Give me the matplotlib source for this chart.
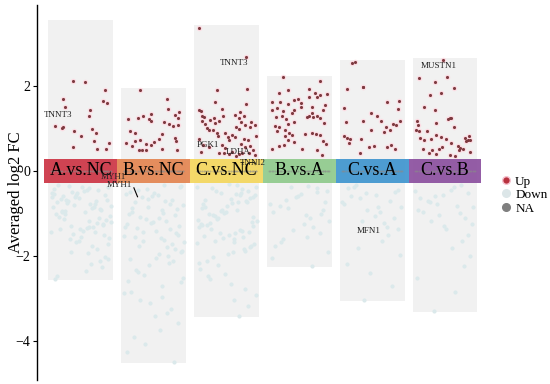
import numpy as np
import matplotlib
matplotlib.use('Agg')
import matplotlib.pyplot as plt
from matplotlib.lines import Line2D

# フォント（Times風）
plt.rcParams['font.family'] = ['Liberation Serif', 'DejaVu Serif']

# クラスター名とタイルの色
clusters = ['A.vs.NC', 'B.vs.NC', 'C.vs.NC', 'B.vs.A', 'C.vs.A', 'C.vs.B']
tile_colors = ['#cc3444', '#e38550', '#f4d65c', '#8fca8c', '#3f95cf', '#8b4f9f']

# 背景バーの上下（log2FCの範囲）
bar_top = [3.55, 1.95, 3.44, 2.24, 2.61, 2.66]
bar_bottom = [-2.56, -4.52, -3.44, -2.26, -3.06, -3.32]

# Up遺伝子 (xのずれ, log2FC)
up_A_x = [-0.10, 0.06, 0.33, -0.24, 0.31, 0.36, -0.21, 0.13, 0.11, -0.35, -0.26, -0.24,
          -0.09, 0.15, 0.21, 0.00, 0.18, 0.39, -0.10, 0.23, 0.35]
up_A_y = [2.12, 2.09, 1.91, 1.70, 1.64, 1.59, 1.49, 1.44, 1.28, 1.06, 1.01, 1.03,
          0.93, 0.99, 0.88, 0.83, 0.71, 0.65, 0.56, 0.51, 0.51]
up_B_x = [-0.18, 0.19, 0.20, 0.35, 0.29, 0.34, -0.03, -0.35, -0.22, -0.14, -0.06, -0.03,
          0.14, 0.21, 0.27, 0.33, -0.33, -0.25, 0.11, -0.19, 0.07, 0.00, 0.30, 0.31,
          -0.38, -0.25, -0.11, -0.04, -0.29, 0.11, -0.20, -0.16, -0.11, 0.32]
up_B_y = [1.91, 1.70, 1.46, 1.39, 1.32, 1.24, 1.33, 1.23, 1.25, 1.28, 1.22, 1.18,
          1.14, 1.11, 1.06, 1.07, 0.93, 0.89, 0.86, 0.72, 0.75, 0.67, 0.77, 0.69,
          0.65, 0.69, 0.64, 0.60, 0.59, 0.52, 0.49, 0.49, 0.49, 0.48]
up_C_x = [-0.37, 0.27, -0.13, 0.28, -0.16, 0.27, -0.38, -0.35, -0.06, 0.19, -0.34, -0.31,
          -0.33, -0.29, -0.27, -0.22, -0.17, -0.15, -0.10, -0.05, 0.12, 0.17, 0.24, 0.20,
          0.26, 0.13, 0.17, 0.34, 0.39, 0.33, -0.24, -0.19, -0.13, -0.11, -0.02, 0.02,
          0.04, 0.08, 0.12, 0.24, 0.30, 0.40, -0.38, -0.32, -0.24, -0.06, -0.02, 0.20,
          0.26, 0.32, 0.36, -0.35, -0.10, -0.03, 0.03, 0.08, 0.13, 0.17, 0.21, 0.31, 0.39]
up_C_y = [3.36, 2.68, 1.89, 1.93, 1.62, 1.57, 1.44, 1.40, 1.45, 1.38, 1.28, 1.26,
          1.16, 1.11, 1.00, 1.20, 1.24, 1.12, 1.18, 1.28, 1.31, 1.24, 1.28, 1.14,
          1.08, 1.03, 0.98, 1.15, 1.08, 1.04, 0.95, 0.96, 0.90, 0.82, 0.90, 0.79,
          0.73, 0.85, 0.79, 0.75, 0.73, 0.82, 0.75, 0.61, 0.57, 0.60, 0.53, 0.64,
          0.57, 0.59, 0.48, 0.45, 0.42, 0.42, 0.40, 0.45, 0.34, 0.40, 0.42, 0.43, 0.37]
up_BA_x = [-0.22, 0.28, -0.28, -0.16, 0.14, 0.22, 0.29, -0.38, -0.26, -0.16, -0.07, -0.02,
           0.02, 0.14, 0.25, 0.38, -0.37, -0.30, -0.22, -0.07, 0.02, 0.18, 0.17, 0.32,
           0.36, -0.32, -0.23, -0.18, -0.10, 0.10, 0.14, 0.19, 0.25, 0.28, -0.33, -0.28,
           -0.16, -0.07, 0.34, -0.30, -0.19, -0.14, -0.10, 0.08, 0.17, 0.23, 0.28, -0.20,
           -0.16, -0.28, -0.21, -0.07, 0.04, 0.33, 0.37, 0.25, 0.31, -0.38]
up_BA_y = [2.20, 2.12, 1.84, 1.89, 1.92, 1.84, 1.79, 1.63, 1.63, 1.58, 1.67, 1.70,
           1.59, 1.73, 1.73, 1.81, 1.44, 1.48, 1.40, 1.44, 1.51, 1.51, 1.37, 1.44,
           1.55, 1.26, 1.28, 1.23, 1.36, 1.26, 1.29, 1.26, 1.29, 1.24, 1.06, 1.03,
           1.11, 1.14, 1.12, 0.93, 0.95, 0.90, 0.85, 0.86, 0.90, 0.87, 0.85, 0.81,
           0.73, 0.59, 0.61, 0.67, 0.51, 0.71, 0.64, 0.49, 0.38, 0.51]
up_CA_x = [-0.28, -0.23, -0.34, -0.13, -0.12, 0.21, 0.37, -0.38, -0.02, 0.07, 0.35, -0.36,
           -0.13, 0.12, 0.19, 0.29, 0.33, 0.38, 0.25, -0.01, 0.17, -0.38, -0.35, -0.30,
           -0.32, -0.15, -0.04, 0.02, 0.21, 0.26, 0.32, -0.16]
up_CA_y = [2.53, 2.57, 1.92, 1.96, 1.98, 1.63, 1.65, 1.48, 1.37, 1.28, 1.45, 1.14,
           1.16, 1.16, 1.04, 1.11, 1.08, 1.18, 0.96, 0.96, 0.92, 0.82, 0.77, 0.75,
           0.65, 0.75, 0.57, 0.59, 0.57, 0.61, 0.51, 0.43]
up_CB_x = [-0.03, -0.36, -0.13, 0.03, 0.13, -0.21, -0.06, -0.29, -0.13, 0.04, 0.07, 0.08,
           -0.12, 0.13, -0.39, -0.37, -0.40, -0.36, -0.24, -0.12, -0.06, -0.34, -0.29, -0.19,
           0.01, 0.08, -0.04, -0.08, 0.18, 0.19, 0.20, 0.28, 0.33, 0.35, 0.29, 0.31,
           0.25, 0.35, -0.30, -0.22, -0.18, -0.12, 0.07, 0.14]
up_CB_y = [2.61, 2.18, 2.09, 2.20, 1.95, 1.79, 1.84, 1.49, 1.44, 1.23, 1.25, 1.24,
           1.12, 1.03, 1.16, 1.08, 0.96, 0.93, 0.93, 0.85, 0.79, 0.77, 0.73, 0.75,
           0.75, 0.65, 0.57, 0.51, 0.59, 0.49, 0.53, 0.77, 0.81, 0.73, 0.69, 0.73,
           0.51, 0.45, 0.51, 0.42, 0.48, 0.40, 0.38, 0.34]

# Down遺伝子のxのずれ（共通のジッター）
jitter = [-0.31, 0.12, 0.38, -0.05, 0.24, -0.40, 0.02, 0.33, -0.18, 0.09,
          -0.27, 0.41, -0.12, 0.19, -0.36, 0.28, -0.02, 0.15, -0.22, 0.36,
          0.06, -0.33, 0.25, -0.09, 0.40, -0.16, 0.11, -0.38, 0.30, -0.25,
          0.17, -0.07, 0.35, -0.29, 0.04, 0.22, -0.41, 0.13, -0.14, 0.32,
          -0.20, 0.08, 0.39, -0.34, 0.20, -0.03, 0.27, -0.11, 0.37, -0.23,
          0.01, -0.37, 0.16, 0.31, -0.08, 0.23, -0.30, 0.10, -0.19, 0.34,
          -0.01, 0.26, -0.39, 0.14, -0.15, 0.29, -0.26, 0.07, 0.42, -0.32,
          0.18, -0.06, 0.37, -0.24, 0.03, -0.13, 0.21, -0.35, 0.11, -0.21]

down_A = [-0.34, -0.41, -0.37, -0.52, -0.46, -0.61, -0.39, -0.58, -0.71, -0.44,
          -0.66, -0.83, -0.49, -0.77, -0.55, -0.92, -0.63, -0.88, -1.02, -0.69,
          -0.97, -0.74, -1.11, -0.81, -1.06, -0.36, -1.18, -0.86, -1.24, -0.95,
          -1.31, -0.57, -1.15, -1.38, -0.48, -1.22, -1.45, -0.79, -1.29, -1.52,
          -0.68, -1.35, -1.58, -1.01, -1.43, -1.64, -0.90, -1.49, -1.71, -1.13,
          -1.56, -0.43, -1.78, -1.27, -0.62, -1.85, -1.09, -1.93, -0.75, -2.02,
          -1.36, -2.11, -0.53, -2.19, -1.61, -2.27, -0.98, -2.36, -1.20, -2.48,
          -0.85, -1.68, -2.08, -0.59, -1.41, -1.90, -0.72, -2.55, -1.33, -0.94]
down_B = [-0.33, -0.45, -0.38, -0.57, -0.49, -0.68, -0.42, -0.81, -0.61, -0.93,
          -0.54, -1.05, -0.74, -1.17, -0.66, -1.29, -0.87, -1.41, -0.78, -1.53,
          -0.99, -1.65, -0.89, -1.77, -1.11, -1.89, -1.02, -2.01, -1.23, -2.13,
          -1.14, -0.36, -1.35, -0.51, -1.26, -0.70, -1.47, -0.84, -1.38, -0.97,
          -1.59, -1.08, -1.50, -1.20, -1.71, -1.32, -1.62, -1.44, -1.83, -1.56,
          -1.95, -1.68, -2.07, -1.80, -2.21, -1.92, -2.33, -2.04, -2.46, -2.17,
          -2.58, -2.70, -2.39, -2.84, -2.97, -2.62, -3.11, -3.26, -2.88, -3.42,
          -3.58, -3.05, -3.74, -3.91, -2.52, -4.08, -3.35, -4.25, -4.50, -0.60]
down_C = [-0.31, -0.43, -0.37, -0.55, -0.48, -0.64, -0.40, -0.76, -0.58, -0.88,
          -0.51, -0.99, -0.70, -1.10, -0.62, -1.22, -0.82, -1.33, -0.73, -1.45,
          -0.94, -1.56, -0.85, -1.67, -1.05, -1.78, -0.96, -1.89, -1.16, -0.34,
          -1.07, -0.47, -1.27, -0.66, -1.19, -0.79, -1.39, -0.91, -1.30, -1.02,
          -1.50, -1.13, -1.42, -1.25, -1.61, -1.36, -1.53, -1.47, -1.72, -1.58,
          -1.83, -1.69, -1.95, -1.80, -2.03, -1.91, -2.12, -0.39, -2.22, -0.57,
          -2.31, -0.74, -2.42, -0.92, -2.54, -1.09, -2.66, -1.28, -2.79, -1.46,
          -2.92, -1.64, -3.05, -2.17, -3.19, -2.48, -3.42, -0.53, -1.21, -0.68]
down_BA = [-0.35, -0.48, -0.62, -0.41, -0.77, -0.55, -0.91, -0.69, -1.05, -0.83,
           -1.19, -0.38, -1.33, -0.97, -1.47, -0.59, -1.12, -1.61, -0.74, -1.26,
           -1.76, -0.50, -1.40, -1.90, -0.88, -1.55, -2.05, -1.02, -1.68, -2.24]
down_CA = [-0.33, -0.46, -0.58, -0.40, -0.71, -0.52, -0.84, -0.65, -0.97, -0.78,
           -1.10, -0.37, -1.23, -0.91, -1.36, -0.60, -1.06, -1.50, -0.73, -1.64,
           -1.19, -0.49, -1.81, -0.86, -1.98, -2.18, -1.32, -2.41, -2.70, -3.04]
down_CB = [-0.34, -0.47, -0.39, -0.60, -0.52, -0.73, -0.44, -0.86, -0.65, -0.99,
           -0.57, -1.12, -0.78, -1.25, -0.70, -1.38, -0.91, -0.83, -1.51, -1.04,
           -1.66, -0.96, -1.82, -1.17, -2.01, -1.30, -2.25, -2.52, -2.86, -3.30]

# ラベル付き遺伝子
gene_names = ['TNNT3', 'MYH1', 'MYH1', 'PGK1', 'LDHA', 'TNNI2', 'TNNT3', 'MFN1', 'MUSTN1']
gene_cluster = [0, 0, 1, 2, 2, 2, 2, 4, 5]
gene_fc = [1.32, -0.14, -0.33, 0.61, 0.45, 0.19, 2.54, -1.41, 2.47]
gene_xoff = [-0.31, 0.45, -0.47, -0.25, 0.16, 0.36, 0.10, -0.05, -0.08]

up_x = [up_A_x, up_B_x, up_C_x, up_BA_x, up_CA_x, up_CB_x]
up_y = [up_A_y, up_B_y, up_C_y, up_BA_y, up_CA_y, up_CB_y]
down_y = [down_A, down_B, down_C, down_BA, down_CA, down_CB]

fig = plt.figure(figsize=(5.5, 3.84), dpi=100)
ax = fig.add_axes([37 / 550, 4 / 384, 448 / 550, 375 / 384])

# 背景の灰色バー
for i in range(len(clusters)):
    ax.bar(i, bar_top[i] - bar_bottom[i], bottom=bar_bottom[i], width=0.89,
           color='#f1f1f1', zorder=1)

# Down点（薄い水色）
for i, ys in enumerate(down_y):
    start = (i * 17) % 50
    xs = [i + jitter[(start + k) % len(jitter)] for k in range(len(ys))]
    ax.scatter(xs, ys, s=9, color='#dbe9eb', linewidths=0, zorder=2)

# Up点（ピンクの縁どり）
for i in range(len(clusters)):
    xs = [i + v for v in up_x[i]]
    ax.scatter(xs, up_y[i], s=16, color='#fcdde4', linewidths=0, zorder=3)
    ax.scatter(xs, up_y[i], s=5, color='#7e3a40', linewidths=0, zorder=4)

# 0のタイル
for i, name in enumerate(clusters):
    ax.bar(i, 0.56, bottom=-0.28, width=1.0, color=tile_colors[i], alpha=0.92, zorder=5)
    ax.text(i, 0, name, ha='center', va='center', fontsize=13, color='black', zorder=7)

# NA点（y=0のライン）
na_x = [i + v for i in range(len(clusters)) for v in jitter[:40]]
ax.scatter(na_x, [0] * len(na_x), s=2, color='#8a8a8a', alpha=0.5, linewidths=0, zorder=6)

# 遺伝子ラベル
for g, c, fc, dx in zip(gene_names, gene_cluster, gene_fc, gene_xoff):
    ax.text(c + dx, fc, g, ha='center', va='center', fontsize=6.5, color='#222222', zorder=8)
ax.plot([1 - 0.27, 1 - 0.22], [-0.40, -0.61], color='black', lw=0.8, zorder=8)

ax.set_xlim(-0.6, 5.55)
ax.set_ylim(-4.92, 3.9)
ax.set_yticks([-4, -2, 0, 2])
ax.set_yticklabels(['\u22124', '\u22122', '0', '2'])
ax.tick_params(axis='y', labelsize=10, length=3, width=0.8, pad=2)
ax.set_xticks([])
for s in ['top', 'right', 'bottom']:
    ax.spines[s].set_visible(False)
ax.spines['left'].set_linewidth(1.0)
ax.set_ylabel('Averaged log2 FC', fontsize=12)
ax.yaxis.set_label_coords(-0.03, 0.5)
ax.patch.set_alpha(0)

# 凡例
handles = [
    Line2D([], [], marker='o', ls='', color='#b8323f', markeredgecolor='#f6c2cf', markersize=5.5),
    Line2D([], [], marker='o', ls='', color='#dce6e8', markeredgecolor='#dce6e8', markersize=5.5),
    Line2D([], [], marker='o', ls='', color='#7f7f7f', markeredgecolor='#7f7f7f', markersize=5.5),
]
fig.legend(handles, ['Up', 'Down', 'NA'], loc='upper left', bbox_to_anchor=(494 / 550, 1 - 170 / 384),
           frameon=False, fontsize=9.5, handletextpad=0.2, labelspacing=0.1, borderaxespad=0,
           handlelength=1.0)

fig.savefig('out.png', dpi=100)
